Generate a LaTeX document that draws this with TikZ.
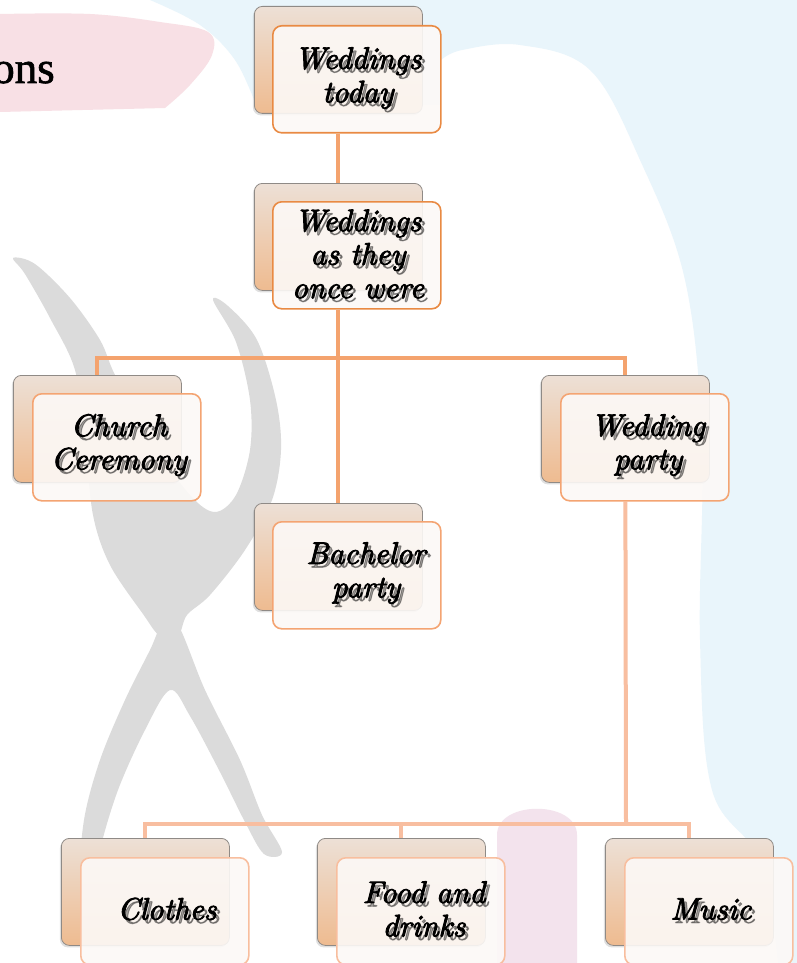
\documentclass[tikz,border=0pt]{standalone}
\usepackage{fontspec}
\newfontfamily\titlefont{Liberation Serif}[FakeBold=1.5]
\newfontfamily\lblfont{lmroman10-italic.otf}[FakeBold=3]
\usetikzlibrary{shadows,calc}
\pgfdeclarelayer{bg}
\pgfsetlayers{bg,main}
\definecolor{bluebg}{HTML}{E9F5FB}
\definecolor{pinkstroke}{HTML}{F8E0E5}
\definecolor{figgray}{HTML}{DBDBDB}
\definecolor{pinkblob}{HTML}{F3E3ED}
\definecolor{connA}{HTML}{F4A36E}
\definecolor{connB}{HTML}{F8BEA0}
\definecolor{edgeA}{HTML}{E98A43}
\definecolor{edgeB}{HTML}{F4A472}
\definecolor{edgeC}{HTML}{F8BE9E}
\definecolor{backtop}{HTML}{EDE0D6}
\definecolor{backbot}{HTML}{EEBB90}
\definecolor{backedge}{HTML}{8F8A86}
\definecolor{frontfill}{HTML}{FCF9F7}
\tikzset{
  backbox/.style={draw=backedge, line width=0.8pt, rounded corners=8pt,
    top color=backtop, bottom color=backbot, minimum width=168pt,
    minimum height=107pt, inner sep=0pt, anchor=north west,
    drop shadow={shadow xshift=-1.5pt, shadow yshift=-2pt, opacity=0.25}},
  frontbox/.style={draw=#1, line width=1.6pt, rounded corners=9pt,
    fill=frontfill, fill opacity=0.9, minimum width=168pt,
    minimum height=107pt, inner sep=0pt, anchor=north west},
  lbl/.style={font=\lblfont\fontsize{31}{33.5}\selectfont, align=center, inner sep=0pt},
  lblshadow/.style={lbl, text=black, text opacity=0.35},
  conn/.style={line width=4pt, draw=#1},
}
\newcommand\mylabel[4]{%
  \node[lblshadow] (#1s) at ($(#2,#3)+(3,3.5)$) {#4};
  \node[lbl] (#1) at (#2,#3) {#4};}
\begin{document}
\begin{tikzpicture}[x=1pt,y=-1pt]
\useasboundingbox (0,0) rectangle (797,963);
\begin{pgfonlayer}{bg}
\fill[white] (0,0) rectangle (797,963);
% light blue area
\fill[bluebg] (797,0) -- (797,963) -- plot[smooth, tension=0.6] coordinates {(778,963) (760,860) (712,790) (700,640) (702,440) (685,280) (640,160) (590,70) (520,45) (462,50) (441,60)} -- (441,105) -- (256,105) -- plot[smooth, tension=0.6] coordinates {(256,105) (235,60) (200,25) (150,0)} -- cycle;
% pink brush stroke top left
\fill[pinkstroke] (0,14) -- plot[smooth, tension=0.6] coordinates {(0,14) (90,14) (160,22) (208,32) (212,55) (190,85) (165,108)} -- (0,112) -- cycle;
% pink blob bottom
\fill[pinkblob] (497,963) -- (497,835) .. controls (497,800) and (577,800) .. (577,835) -- (577,963) -- cycle;
% gray figure
\fill[figgray] plot[smooth cycle, tension=0.55] coordinates {(13,258) (35,264) (70,298) (100,340) (115,375) (150,440) (190,495) (215,512) (236,495) (250,450) (250,400) (236,342) (213,300) (228,306) (257,340) (276,400) (281,450) (272,500) (245,550) (210,595) (187,615) (178,636) (160,636) (143,614) (110,565) (93,515) (85,440) (75,370) (50,318) (25,274)};
\fill[figgray] plot[smooth cycle, tension=0.55] coordinates {(162,625) (178,625) (205,690) (240,760) (262,815) (282,852) (264,854) (245,822) (220,772) (190,716) (170,690) (145,730) (118,790) (100,850) (97,885) (80,885) (84,820) (100,760) (125,700) (150,650)};
\end{pgfonlayer}
% title fragment
\node[anchor=base west, inner sep=0pt, font=\titlefont\fontsize{45}{48}\selectfont] (title) at (-8,83) {ons};
% back boxes
\node[backbox] (b1) at (254,6) {};
\node[backbox] (b2) at (254,183) {};
\node[backbox] (b3) at (13,375) {};
\node[backbox] (b4) at (541,375) {};
\node[backbox] (b5) at (254,503) {};
\node[backbox] (b6) at (61,838) {};
\node[backbox] (b7) at (317,838) {};
\node[backbox] (b8) at (605,838) {};
% front boxes
\node[frontbox=edgeA] (f1) at (272,25) {};
\node[frontbox=edgeA] (f2) at (272,201) {};
\node[frontbox=edgeB] (f3) at (32,393) {};
\node[frontbox=edgeB] (f4) at (560,393) {};
\node[frontbox=edgeB] (f5) at (272,521) {};
\node[frontbox=edgeC] (f6) at (80,857) {};
\node[frontbox=edgeC] (f7) at (336,857) {};
\node[frontbox=edgeC] (f8) at (624,857) {};
% labels
\mylabel{t1}{358}{78}{Weddings\\today}
\mylabel{t2}{358}{254}{Weddings\\as they\\once were}
\mylabel{t3}{119}{445}{Church\\Ceremony}
\mylabel{t4}{648}{445}{Wedding\\party}
\mylabel{t5}{366}{573}{Bachelor\\party}
\mylabel{t6}{167}{909}{Clothes}
\mylabel{t7}{424}{909}{Food and\\drinks}
\mylabel{t8}{711}{909}{Music}
% connectors
\coordinate (j1) at (337,358);
\coordinate (j2) at (626,824);
\begin{pgfonlayer}{bg}
\draw[conn=connA] (f1.south -| b1.north) -- (b2.north);
\draw[conn=connA] (f2.south -| b2.north) -- (b5.north);
\draw[conn=connA] (b3.north) |- (j1) -| (b4.north);
\draw[conn=connB] (f4.south -| b4.north) -- (j2);
\draw[conn=connB] (b6.north) |- (j2) -| (b8.north);
\draw[conn=connB] (b7.north) -- (b7.north |- j2);
\end{pgfonlayer}
\end{tikzpicture}
\end{document}
